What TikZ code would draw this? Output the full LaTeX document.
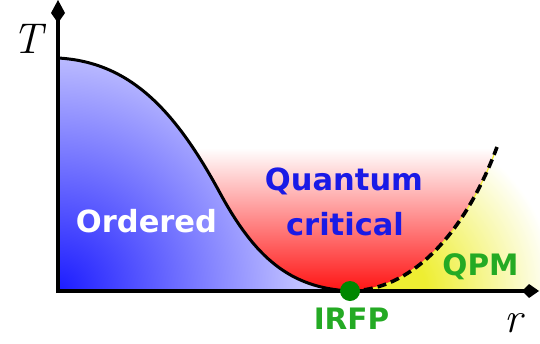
\documentclass[tikz,border=0pt]{standalone}
\usepackage{fontspec}
\newfontfamily\lab{DejaVu Sans}
\usetikzlibrary{arrows.meta}
\definecolor{bluedeep}{RGB}{28,28,255}
\definecolor{bluepale}{RGB}{232,232,255}
\definecolor{redfull}{RGB}{255,25,25}
\definecolor{yelfull}{RGB}{238,238,50}
\definecolor{txtblue}{RGB}{26,26,230}
\definecolor{txtgreen}{RGB}{36,170,36}
\definecolor{dotgreen}{RGB}{0,136,0}
\pgfdeclareradialshading{blueglow}{\pgfpoint{0bp}{0bp}}{color(0bp)=(bluedeep); color(25bp)=(bluepale); color(50bp)=(bluepale)}
\pgfdeclareradialshading{yelglow}{\pgfpoint{0bp}{0bp}}{color(0bp)=(yelfull); color(6bp)=(yelfull); color(25bp)=(white); color(50bp)=(white)}
\tikzset{
  axisline/.style={line width=3.5pt, line cap=butt},
  tipv/.style={-{Kite[length=23pt,width=14pt,inset=10pt]}},
  tiph/.style={-{Kite[length=17pt,width=14pt,inset=7pt]}},
  phaseline/.style={line width=3pt, black},
  crossover/.style={line width=3.6pt, black, dash pattern=on 9pt off 5pt},
  biglab/.style={font=\lab\bfseries\fontsize{30.5}{34}\selectfont, anchor=base, inner sep=0pt},
  midlab/.style={font=\lab\bfseries\fontsize{29.5}{34}\selectfont, anchor=base, inner sep=0pt},
  axlab/.style={font=\itshape\fontsize{43}{48}\selectfont, anchor=base, inner sep=0pt},
}
\begin{document}
\begin{tikzpicture}[x=1pt,y=-1pt]
\useasboundingbox (0,0) rectangle (540,343);
\coordinate (O) at (58,291);
\coordinate (Tc) at (58,58);
\coordinate (P) at (350,291);
\coordinate (D) at (497,147);
% blue ordered region
\begin{scope}
  \clip (Tc) .. controls (130,62) and (175,110) .. (220,193)
        .. controls (255,257.5) and (290,288) .. (P) -- (O) -- cycle;
  \shade[shading=blueglow] (O) circle (300);
\end{scope}
% red quantum critical region
\begin{scope}
  \clip (Tc) .. controls (130,62) and (175,110) .. (220,193)
        .. controls (255,257.5) and (290,288) .. (P)
        .. controls (420,290) and (470,220) .. (D) -- (497,100) -- (58,100) -- cycle;
  \shade[top color=white, bottom color=redfull] (40,148) rectangle (540,288);
  \fill[redfull] (40,287) rectangle (540,292);
\end{scope}
% yellow QPM region
\begin{scope}
  \clip (P) .. controls (420,290) and (470,220) .. (D) -- (540,100) -- (540,291) -- cycle;
  \shade[shading=yelglow] (385,291) circle (170);
\end{scope}
% phase boundary and crossover
\draw[phaseline] (Tc) .. controls (130,62) and (175,110) .. (220,193)
        .. controls (255,257.5) and (290,288) .. (P);
\draw[yelfull, line width=1.2pt] (P) .. controls (420,290) and (470,220) .. (D);
\draw[crossover] (P) .. controls (420,290) and (470,220) .. (D);
% axes
\draw[axisline, tipv] (58,293) -- (58,0);
\draw[axisline, tiph] (56.25,291) -- (539,291);
% fixed point
\fill[dotgreen] (P) circle (10);
% labels
\node[axlab] (Tlab) at (27.5,53) {T};
\node[axlab] (rlab) at (513,332) {r};
\node[biglab, white] (ord) at (146.5,232) {Ordered};
\node[biglab, txtblue] (qc1) at (344,190) {Quantum};
\node[biglab, txtblue] (qc2) at (345,235) {critical};
\node[midlab, txtgreen] (qpm) at (480.5,275) {QPM};
\node[midlab, txtgreen] (irfp) at (351.5,329) {IRFP};
\end{tikzpicture}
\end{document}
